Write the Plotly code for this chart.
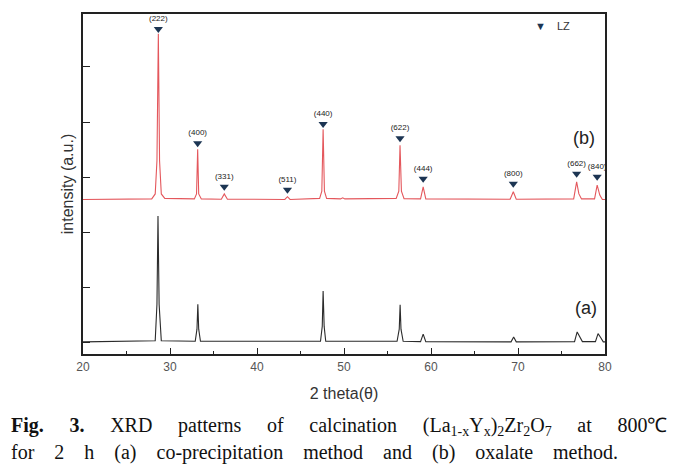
import plotly.graph_objects as go

# pattern (b): oxalate method, offset upward
two_theta_b = [20.0, 27.9, 28.3, 28.5, 28.66, 28.8, 29.0, 29.4,
               32.8, 33.05, 33.18, 33.3, 33.6,
               35.9, 36.24, 36.6,
               43.2, 43.5, 43.8,
               47.2, 47.45, 47.6, 47.75, 48.0,
               49.6, 49.85, 50.1,
               56.0, 56.3, 56.44, 56.6, 56.9,
               58.8, 59.1, 59.4,
               69.1, 69.46, 69.8,
               76.4, 76.74, 77.0, 77.3,
               78.8, 79.1, 79.4, 79.7, 80.0]
intensity_b = [2600, 2610, 2700, 3300, 5600, 3300, 2700, 2620,
               2610, 2700, 3510, 2700, 2610,
               2605, 2700, 2605,
               2600, 2650, 2600,
               2620, 2750, 3870, 2750, 2620,
               2610, 2630, 2610,
               2620, 2750, 3580, 2750, 2615,
               2610, 2830, 2610,
               2605, 2740, 2605,
               2610, 2920, 2700, 2610,
               2610, 2860, 2680, 2600, 2600]

# pattern (a): co-precipitation method
two_theta_a = [20.0, 28.3, 28.5, 28.62, 28.75, 29.0,
               32.9, 33.1, 33.2, 33.3, 33.5,
               47.3, 47.5, 47.6, 47.72, 47.9,
               56.1, 56.35, 56.45, 56.55, 56.8,
               58.8, 59.1, 59.4,
               69.2, 69.5, 69.8,
               76.5, 76.8, 77.1, 77.4,
               78.9, 79.2, 79.5, 79.8, 80.0]
intensity_a = [20, 40, 700, 2300, 700, 40,
               30, 250, 700, 250, 30,
               30, 300, 940, 300, 30,
               30, 250, 690, 250, 30,
               25, 160, 25,
               20, 110, 20,
               25, 200, 120, 25,
               25, 170, 100, 20, 20]

# LZ reflections marked on pattern (b)
hkl_labels = ["(222)", "(400)", "(331)", "(511)", "(440)", "(622)",
              "(444)", "(800)", "(662)", "(840)"]
hkl_2theta = [28.66, 33.18, 36.24, 43.5, 47.6, 56.44, 59.1, 69.46, 76.74, 79.1]
hkl_marker_y = [5690, 3620, 2830, 2775, 3965, 3710, 2975, 2885, 3065, 3010]

MARK = "#1c3553"

fig = go.Figure()

fig.add_trace(go.Scatter(
    x=two_theta_a, y=intensity_a, mode="lines",
    line=dict(color="#2b2b2b", width=1.1), showlegend=False,
))
fig.add_trace(go.Scatter(
    x=two_theta_b, y=intensity_b, mode="lines",
    line=dict(color="#e4575c", width=1.1), showlegend=False,
))
fig.add_trace(go.Scatter(
    x=hkl_2theta, y=hkl_marker_y, mode="markers+text",
    marker=dict(symbol="triangle-down", size=8, color=MARK),
    text=hkl_labels, textposition="top center",
    textfont=dict(size=8, color="#222222", family="Arial, Liberation Sans"),
    name="LZ", showlegend=False,
))

# legend key drawn as text so it stays inside the frame
fig.add_annotation(
    xref="paper", yref="paper", x=0.862, y=0.966, xanchor="left", yanchor="middle",
    text=f"<span style='color:{MARK}'>▼</span>\u2003LZ", showarrow=False,
    font=dict(size=11, color="#333333", family="Arial, Liberation Sans"),
)

fig.add_annotation(x=77.6, y=3712, text="(b)", showarrow=False,
                   font=dict(size=18, color="#222222", family="Arial, Liberation Sans"))
fig.add_annotation(x=77.8, y=630, text="(a)", showarrow=False,
                   font=dict(size=18, color="#222222", family="Arial, Liberation Sans"))

# caption under the chart
line1 = ["<b>Fig.</b>", "<b>3.</b>", "XRD", "patterns", "of", "calcination",
         "(La<sub>1-x</sub>Y<sub>x</sub>)<sub>2</sub>Zr<sub>2</sub>O<sub>7</sub>",
         "at", "800℃"]
line2 = ["for", "2", "h", "(a)", "co-precipitation", "method", "and", "(b)",
         "oxalate", "method."]
fig.add_annotation(
    xref="paper", yref="paper", x=-0.142, y=-0.2135, xanchor="left", yanchor="middle",
    text="\u2003\u2009\u200a".join(line1),
    showarrow=False, font=dict(size=20, color="#111111", family="Liberation Serif"),
)
fig.add_annotation(
    xref="paper", yref="paper", x=-0.142, y=-0.2895, xanchor="left", yanchor="middle",
    text="\u2003".join(line2),
    showarrow=False, font=dict(size=20, color="#111111", family="Liberation Serif"),
)

fig.update_layout(
    width=677, height=475,
    margin=dict(l=83, r=72, t=12, b=121),
    paper_bgcolor="white", plot_bgcolor="white",
    font=dict(family="Arial, Liberation Sans", color="#333333"),
    showlegend=False,
    xaxis=dict(
        range=[20, 80], tickvals=[20, 30, 40, 50, 60, 70, 80],
        ticks="inside", ticklen=6, tickwidth=1.2, tickcolor="#222222",
        minor=dict(dtick=5, ticks="inside", ticklen=3, tickcolor="#222222"),
        showline=True, linecolor="#222222", linewidth=1.5, mirror=True,
        showgrid=False, zeroline=False,
        tickfont=dict(size=12, color="#555555"), ticklabelstandoff=1,
        title=dict(text="2 theta(θ)", font=dict(size=16, color="#333333"), standoff=15),
    ),
    yaxis=dict(
        range=[-200, 5960], tickvals=[0, 1000, 2000, 3000, 4000, 5000],
        showticklabels=False,
        ticks="inside", ticklen=7, tickwidth=1.2, tickcolor="#222222",
        showline=True, linecolor="#222222", linewidth=1.5, mirror=True,
        showgrid=False, zeroline=False,
        title=dict(text="intensity (a.u.)", font=dict(size=16, color="#333333"), standoff=4),
    ),
)

# the page body has a default 8px margin; drop it so the figure sits at the corner
fig.write_html("out.html", config={"displayModeBar": False},
               post_script="document.body.style.margin='0';")
